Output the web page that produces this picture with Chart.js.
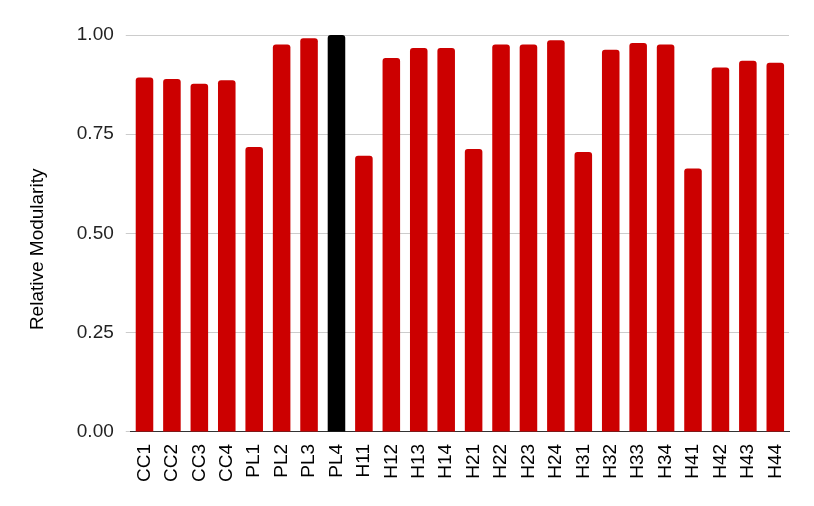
<!DOCTYPE html>
<html>
<head>
<meta charset="utf-8">
<script src="https://cdn.jsdelivr.net/npm/chart.js@4"></script>
<style>
html,body{margin:0;padding:0;background:#fff;}
#wrap{width:814px;height:506px;}
</style>
</head>
<body>
<div id="wrap"><canvas id="chart" width="814" height="506"></canvas></div>
<script>
// data
const labels=["CC1","CC2","CC3","CC4","PL1","PL2","PL3","PL4","H11","H12","H13","H14","H21","H22","H23","H24","H31","H32","H33","H34","H41","H42","H43","H44"];
const modularity=[0.893,0.889,0.877,0.886,0.718,0.976,0.992,1.0,0.696,0.942,0.967,0.967,0.713,0.976,0.976,0.987,0.705,0.963,0.980,0.976,0.664,0.918,0.935,0.930];
const yTicks=[0,0.25,0.5,0.75,1];
const highlight="PL4";

const RED="#cc0000", BLACK="#000000";
const FONT="'Liberation Sans', Arial, sans-serif";

new Chart(document.getElementById("chart"),{
type:"bar",
data:{
labels:labels,
datasets:[{
data:modularity,
backgroundColor:labels.map(l=>l===highlight?BLACK:RED),
borderRadius:3,
barPercentage:0.64,
categoryPercentage:1
}]
},
options:{
responsive:false,
animation:false,
layout:{padding:{left:20,right:25,top:35,bottom:20}},
plugins:{legend:{display:false},tooltip:{enabled:false}},
scales:{
x:{
grid:{display:false},
border:{display:true,color:"#333",width:1},
ticks:{
autoSkip:false,maxRotation:90,minRotation:90,padding:4,
color:"#000",font:{family:FONT,size:19}
}
},
y:{
min:0,max:1,
afterBuildTicks:axis=>{axis.ticks=yTicks.map(v=>({value:v}));},
grid:{color:"#cccccc",tickLength:5},
border:{display:false},
ticks:{
padding:12,color:"#222",font:{family:FONT,size:19},
callback:v=>v.toFixed(2)
},
title:{
// trailing spaces nudge the title a bit lower, like the original
display:true,text:"Relative Modularity      ",color:"#000",
font:{family:FONT,size:19},padding:{top:6,bottom:16}
}
}
}
}
});
</script>
</body>
</html>
